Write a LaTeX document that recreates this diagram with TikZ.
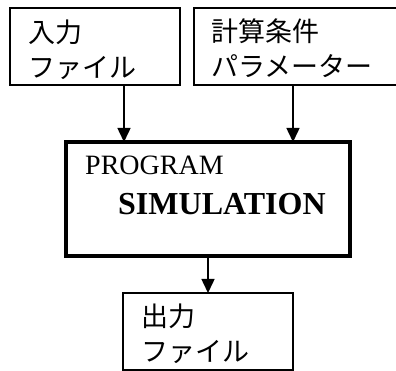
\documentclass[tikz,border=0pt]{standalone}
\usepackage{fontspec}
\setmainfont{Liberation Serif}
\newfontfamily\jpfont{Noto Sans CJK JP}
\usetikzlibrary{arrows.meta}
\tikzset{
  thinbox/.style={draw, line width=1.8pt, outer sep=0pt, inner sep=0pt},
  mainbox/.style={draw, line width=3.8pt, outer sep=0pt, inner sep=0pt},
  jptext/.style={font=\jpfont\fontsize{27pt}{35pt}\selectfont, align=left, inner sep=0pt, anchor=west},
  arr/.style={line width=1.5pt, -{Triangle[length=14pt,width=13pt]}}
}
\begin{document}
\begin{tikzpicture}[x=1pt,y=1pt]
\useasboundingbox (0,0) rectangle (396,-371);
\clip (0,0) rectangle (396,-371);
% boxes
\node[thinbox, minimum width=170pt, minimum height=77pt] (in) at (95,-46.5) {};
\node[thinbox, minimum width=216pt, minimum height=77pt] (par) at (302,-46.5) {};
\node[mainbox, minimum width=284pt, minimum height=114pt] (main) at (208,-199) {};
\node[thinbox, minimum width=170pt, minimum height=77pt] (out) at (208,-331.5) {};
% texts
\node[jptext] (intext) at (28,-50) {入力\\ファイル};
\node[jptext] (partext) at (211,-48) {計算条件\\パラメーター};
\node[jptext] (outtext) at (141,-334) {出力\\ファイル};
\node[font=\fontsize{28pt}{30pt}\selectfont, anchor=base west, inner sep=0pt] (prog) at (85,-175) {PROGRAM};
\node[font=\fontsize{32pt}{34pt}\selectfont\bfseries, anchor=base west, inner sep=0pt] (sim) at (118,-215) {SIMULATION};
% arrows
\draw[arr] ([xshift=29pt]in.south) -- ([xshift=-84pt]main.north);
\draw[arr] ([xshift=-9pt]par.south) -- ([xshift=85pt]main.north);
\draw[arr] (main.south) -- (out.north);
\end{tikzpicture}
\end{document}
